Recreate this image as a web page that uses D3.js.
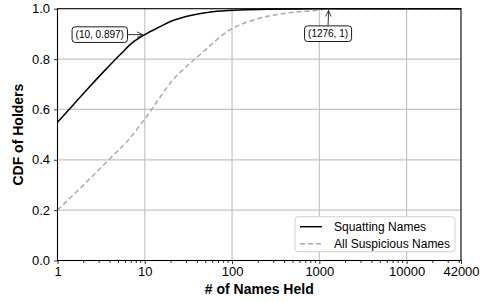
<!DOCTYPE html>
<html><head><meta charset="utf-8">
<script src="https://cdn.jsdelivr.net/npm/d3@7"></script>
<style>body{margin:0;background:#fff}svg{display:block}text{font-family:"Liberation Sans",Arial,sans-serif;fill:#000}</style>
</head><body><svg id="c" width="491" height="302"></svg>
<script>
const squatX = [1, 1.45, 2.25, 3.49, 5.41, 7.05, 10, 14.8, 20, 35.6, 60, 122, 250, 600, 1276, 42000];
const squatY = [0.549, 0.611, 0.684, 0.755, 0.823, 0.862, 0.897, 0.928, 0.95, 0.975, 0.988, 0.995, 0.998, 0.999, 1, 1];
const suspX = [1, 1.89, 4, 6.45, 10, 21, 42.5, 94, 206, 454, 1000, 1276, 42000];
const suspY = [0.2, 0.293, 0.405, 0.478, 0.562, 0.717, 0.816, 0.915, 0.962, 0.984, 0.995, 1, 1];
const xTicks = [1, 10, 100, 1000, 10000, 42000];
const yTicks = [0, 0.2, 0.4, 0.6, 0.8, 1.0];
const seriesNames = ["Squatting Names", "All Suspicious Names"];
const annotations = [{x: 10, y: 0.897, label: "(10, 0.897)"}, {x: 1276, y: 1, label: "(1276, 1)"}];

const svg = d3.select("#c");
const L = 57.5, R = 461, T = 8.7, B = 260.5;
const x = d3.scaleLog().domain([1, 42000]).range([L, R]);
const y = d3.scaleLinear().domain([0, 1]).range([B, T]);

// grid
const grid = svg.append("g").attr("stroke", "#c4c4c4").attr("stroke-width", 1.2);
[10, 100, 1000, 10000].forEach(v => grid.append("line").attr("x1", x(v)).attr("x2", x(v)).attr("y1", T).attr("y2", B));
[0.2, 0.4, 0.6, 0.8].forEach(v => grid.append("line").attr("x1", L).attr("x2", R).attr("y1", y(v)).attr("y2", y(v)));

// minor ticks
const minors = [];
for (let d = 1; d <= 10000; d *= 10) for (let k = 2; k <= 9; k++) if (d * k < 42000) minors.push(d * k);
svg.append("g").attr("stroke", "#000").attr("stroke-width", 0.8).selectAll("line").data(minors).join("line")
  .attr("x1", d => x(d)).attr("x2", d => x(d)).attr("y1", B).attr("y2", B + 2.5);

// axes
const xAxis = d3.axisBottom(x).tickValues(xTicks).tickFormat(d3.format("d")).tickSize(3.5).tickPadding(3);
const gx = svg.append("g").attr("transform", `translate(0,${B})`).call(xAxis);
gx.select(".domain").remove();
gx.selectAll("text").attr("font-size", 13).attr("font-family", '"Liberation Sans",Arial,sans-serif');
gx.selectAll("line").attr("stroke-width", 0.8);
const yAxis = d3.axisLeft(y).tickValues(yTicks).tickFormat(d3.format(".1f")).tickSize(3.5).tickPadding(4);
const gy = svg.append("g").attr("transform", `translate(${L},0)`).call(yAxis);
gy.select(".domain").remove();
gy.selectAll("text").attr("font-size", 13).attr("font-family", '"Liberation Sans",Arial,sans-serif');
gy.selectAll("line").attr("stroke-width", 0.8);

// lines
const line = d3.line().x(d => x(d[0])).y(d => y(d[1])).curve(d3.curveMonotoneX);
svg.append("path").datum(d3.zip(suspX, suspY)).attr("d", line).attr("fill", "none")
  .attr("stroke", "#aaaaaa").attr("stroke-width", 1.5).attr("stroke-dasharray", "5,3");
svg.append("path").datum(d3.zip(squatX, squatY)).attr("d", line).attr("fill", "none")
  .attr("stroke", "#000").attr("stroke-width", 1.5);

// frame
svg.append("rect").attr("x", L).attr("y", T).attr("width", R - L).attr("height", B - T)
  .attr("fill", "none").attr("stroke", "#000").attr("stroke-width", 1.1);

// annotations
const defs = svg.append("defs");
defs.append("marker").attr("id", "ah").attr("viewBox", "0 0 10 10").attr("refX", 10).attr("refY", 5)
  .attr("markerWidth", 7).attr("markerHeight", 7).attr("markerUnits", "userSpaceOnUse").attr("orient", "auto")
  .append("path").attr("d", "M1,1 L9.5,5 L1,9").attr("fill", "none").attr("stroke", "#333").attr("stroke-width", 1.3);

const offs = [[-45, 0], [-0.5, 25]];
annotations.forEach((a, i) => {
  const px = x(a.x), py = y(a.y);
  const cx = px + offs[i][0], cy = py + offs[i][1];
  const g = svg.append("g");
  const rect = g.append("rect");
  const t = g.append("text").attr("x", cx).attr("y", cy).attr("text-anchor", "middle")
    .attr("dominant-baseline", "central").attr("font-size", 10).text(a.label);
  const bb = t.node().getBBox();
  const w = bb.width + 7, h = 15.6;
  rect.attr("x", cx - w / 2).attr("y", cy - h / 2).attr("width", w).attr("height", h)
    .attr("rx", 3).attr("fill", "#fff").attr("stroke", "#000").attr("stroke-width", 0.9);
  let sx, sy;
  if (i === 0) { sx = cx + w / 2; sy = cy; } else { sx = cx; sy = cy - h / 2; }
  g.append("line").attr("x1", sx).attr("y1", sy).attr("x2", i === 0 ? px - 1.5 : px).attr("y2", i === 0 ? py : py + 1.5)
    .attr("stroke", "#333").attr("stroke-width", 1).attr("marker-end", "url(#ah)");
});

// legend
const lg = svg.append("g");
lg.append("rect").attr("x", 295).attr("y", 216.7).attr("width", 160).attr("height", 35).attr("rx", 3)
  .attr("fill", "#fff").attr("stroke", "#d0d0d0").attr("stroke-width", 1);
const styles = [{c: "#000", d: null}, {c: "#aaaaaa", d: "5,3"}];
seriesNames.forEach((n, i) => {
  const yy = 226.7 + i * 17;
  const l = lg.append("line").attr("x1", 300).attr("x2", 322).attr("y1", yy).attr("y2", yy)
    .attr("stroke", styles[i].c).attr("stroke-width", 1.5);
  if (styles[i].d) l.attr("stroke-dasharray", styles[i].d);
  lg.append("text").attr("x", 334).attr("y", yy).attr("dominant-baseline", "central").attr("font-size", 12).text(n);
});

// axis titles
svg.append("text").attr("x", (L + R) / 2).attr("y", 294).attr("text-anchor", "middle")
  .attr("font-size", 14).attr("font-weight", "bold").text("# of Names Held");
svg.append("text").attr("transform", `translate(23,${(T + B) / 2}) rotate(-90)`).attr("text-anchor", "middle")
  .attr("font-size", 14).attr("font-weight", "bold").text("CDF of Holders");
</script></body></html>
